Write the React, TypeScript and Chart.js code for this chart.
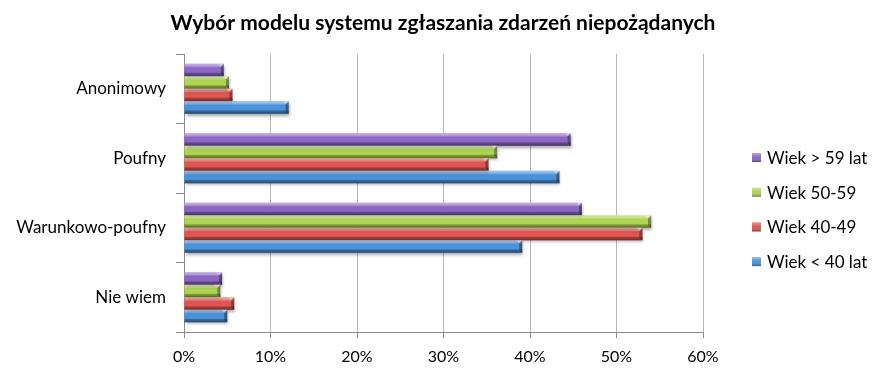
import { useEffect, useRef } from 'react';
import { Chart, registerables } from 'chart.js';

Chart.register(...registerables);

const chartTitle = 'Wybór modelu systemu zgłaszania zdarzeń niepożądanych';
const categories = ['Anonimowy', 'Poufny', 'Warunkowo-poufny', 'Nie wiem'];
const seriesLabels = ['Wiek > 59 lat', 'Wiek 50-59', 'Wiek 40-49', 'Wiek < 40 lat'];
const over59 = [4.6, 44.7, 46.0, 4.4];
const age50to59 = [5.2, 36.2, 54.0, 4.2];
const age40to49 = [5.6, 35.2, 53.0, 5.8];
const under40 = [12.1, 43.4, 39.1, 5.0];
const seriesValues = [over59, age50to59, age40to49, under40];
const seriesColors = ['#8b66c2', '#aed452', '#e05550', '#4a92dc'];
const xMin = 0;
const xMax = 60;
const xStep = 10;

const FONT = 'Lato, "Noto Sans", sans-serif';

const titlePlugin = {
  id: 'centeredTitle',
  afterDraw(chart: any) {
    const ctx = chart.ctx;
    ctx.save();
    ctx.font = 'bold 21px ' + FONT;
    ctx.fillStyle = '#000';
    ctx.textAlign = 'center';
    ctx.textBaseline = 'middle';
    ctx.fillText(chartTitle, chart.width / 2, 23);
    ctx.restore();
  },
};

const shadePlugin = {
  id: 'shade3d',
  beforeDatasetsDraw(chart: any) {
    const ctx = chart.ctx;
    ctx.save();
    ctx.shadowColor = 'rgba(0,0,0,0.35)';
    ctx.shadowBlur = 3;
    ctx.shadowOffsetX = 1;
    ctx.shadowOffsetY = 2;
  },
  afterDatasetsDraw(chart: any) {
    const ctx = chart.ctx;
    ctx.restore();
    chart.data.datasets.forEach((_ds: any, di: number) => {
      const meta = chart.getDatasetMeta(di);
      meta.data.forEach((el: any) => {
        const { x, y, base, height } = el.getProps(['x', 'y', 'base', 'height'], true);
        const left = Math.min(x, base);
        const right = Math.max(x, base);
        const top = y - height / 2;
        const bottom = y + height / 2;
        const g = ctx.createLinearGradient(0, top, 0, bottom);
        g.addColorStop(0, 'rgba(255,255,255,0.5)');
        g.addColorStop(0.2, 'rgba(255,255,255,0.3)');
        g.addColorStop(0.32, 'rgba(255,255,255,0)');
        g.addColorStop(0.68, 'rgba(0,0,0,0)');
        g.addColorStop(0.78, 'rgba(0,0,0,0.28)');
        g.addColorStop(1, 'rgba(0,0,0,0.5)');
        ctx.save();
        ctx.fillStyle = g;
        ctx.fillRect(left, top, right - left, height);
        const b = Math.min(3, (right - left) / 2);
        ctx.beginPath();
        ctx.moveTo(right - b, top + b);
        ctx.lineTo(right, top);
        ctx.lineTo(right, bottom);
        ctx.lineTo(right - b, bottom - b);
        ctx.closePath();
        ctx.fillStyle = 'rgba(0,0,0,0.35)';
        ctx.fill();
        ctx.beginPath();
        ctx.moveTo(right - b - 3, top);
        ctx.lineTo(right, top);
        ctx.lineTo(right - b, top + b);
        ctx.closePath();
        ctx.fillStyle = 'rgba(255,255,255,0.35)';
        ctx.fill();
        ctx.restore();
      });
    });
  },
};

const legendPlugin = {
  id: 'sideLegend',
  afterDraw(chart: any) {
    const ctx = chart.ctx;
    const area = chart.chartArea;
    const spacing = 34.7;
    const boxSize = 9;
    const boxLeft = area.right + 49;
    const firstY = area.top + 103.5;
    ctx.save();
    ctx.font = '17px ' + FONT;
    ctx.textBaseline = 'middle';
    ctx.textAlign = 'left';
    chart.data.datasets.forEach((ds: any, i: number) => {
      const cy = firstY + i * spacing;
      const top = cy - boxSize / 2;
      ctx.fillStyle = ds.backgroundColor;
      ctx.fillRect(boxLeft, top, boxSize, boxSize);
      const g = ctx.createLinearGradient(0, top, 0, top + boxSize);
      g.addColorStop(0, 'rgba(255,255,255,0.4)');
      g.addColorStop(0.5, 'rgba(255,255,255,0.0)');
      g.addColorStop(1, 'rgba(0,0,0,0.4)');
      ctx.fillStyle = g;
      ctx.fillRect(boxLeft, top, boxSize, boxSize);
      ctx.fillStyle = '#000';
      ctx.fillText(ds.label, boxLeft + boxSize + 6, cy + 1);
    });
    ctx.restore();
  },
};

export default function App() {
  const canvasRef = useRef<HTMLCanvasElement | null>(null);

  useEffect(() => {
    if (!canvasRef.current) return;
    const chart = new Chart(canvasRef.current, {
      type: 'bar',
      data: {
        labels: categories,
        datasets: seriesLabels.map((label, i) => ({
          label,
          data: seriesValues[i],
          backgroundColor: seriesColors[i],
          borderWidth: 0,
          categoryPercentage: 0.72,
          barPercentage: 1.0,
        })),
      },
      options: {
        indexAxis: 'y',
        animation: false,
        responsive: false,
        maintainAspectRatio: false,
        layout: { padding: { left: 0, right: 183, top: 54, bottom: 0 } },
        plugins: {
          legend: { display: false },
          tooltip: { enabled: false },
          title: { display: false },
        },
        scales: {
          x: {
            min: xMin,
            max: xMax,
            afterFit: (scale: any) => {
              scale.height = 40;
            },
            ticks: {
              stepSize: xStep,
              color: '#000',
              padding: 9,
              font: { family: FONT, size: 16 },
              callback: (v: any) => v + '%',
            },
            grid: {
              color: '#b8b8b8',
              lineWidth: 1,
              drawTicks: true,
              tickLength: 6,
              tickColor: '#8c8c8c',
            },
            border: { display: true, color: '#8c8c8c' },
          },
          y: {
            afterFit: (scale: any) => {
              scale.width = 184;
            },
            ticks: {
              color: '#000',
              padding: 10,
              font: { family: FONT, size: 17 },
            },
            grid: {
              offset: true,
              drawOnChartArea: false,
              drawTicks: true,
              tickLength: 8,
              color: '#8c8c8c',
            },
            border: { display: true, color: '#8c8c8c' },
          },
        },
      },
      plugins: [shadePlugin, legendPlugin, titlePlugin],
    } as any);
    return () => chart.destroy();
  }, []);

  return (
    <div style={{ position: 'fixed', left: 0, top: 0, width: 886, height: 372, background: '#fff' }}>
      <canvas ref={canvasRef} width={886} height={372} style={{ width: 886, height: 372 }} />
    </div>
  );
}
